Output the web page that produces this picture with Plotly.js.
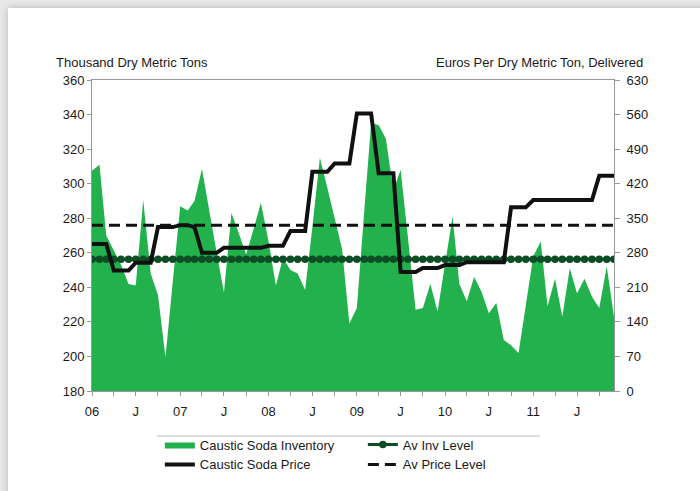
<!DOCTYPE html>
<html>
<head>
<meta charset="utf-8">
<script src="https://cdn.plot.ly/plotly-3.0.1.min.js"></script>
<style>
  html, body { margin: 0; padding: 0; width: 700px; height: 491px; overflow: hidden; background: #e9e9e9; }
  #card { position: absolute; left: 8px; top: 8px; width: 720px; height: 520px; background: #ffffff;
          box-shadow: 0 0 8px rgba(0,0,0,0.22); }
  #chart { position: absolute; left: 0; top: 0; width: 700px; height: 491px; }
</style>
</head>
<body>
<div id="card"></div>
<div id="chart"></div>
<script>
// Months Jan 2006 .. Dec 2011
const months = [
  '2006-01','2006-02','2006-03','2006-04','2006-05','2006-06','2006-07','2006-08','2006-09','2006-10','2006-11','2006-12',
  '2007-01','2007-02','2007-03','2007-04','2007-05','2007-06','2007-07','2007-08','2007-09','2007-10','2007-11','2007-12',
  '2008-01','2008-02','2008-03','2008-04','2008-05','2008-06','2008-07','2008-08','2008-09','2008-10','2008-11','2008-12',
  '2009-01','2009-02','2009-03','2009-04','2009-05','2009-06','2009-07','2009-08','2009-09','2009-10','2009-11','2009-12',
  '2010-01','2010-02','2010-03','2010-04','2010-05','2010-06','2010-07','2010-08','2010-09','2010-10','2010-11','2010-12',
  '2011-01','2011-02','2011-03','2011-04','2011-05','2011-06','2011-07','2011-08','2011-09','2011-10','2011-11','2011-12'
];

// Caustic soda inventory, thousand dry metric tons (left axis)
const inventory = [
  307.5, 311, 270, 261, 253, 242, 241, 290.5, 248, 235.5, 199.5, 243,
  287, 284.5, 290, 308.5, 284, 260, 237, 283, 271, 259, 274, 289,
  267, 241, 257, 250, 248, 238.5, 275, 315, 297.5, 280, 262, 219,
  228, 285, 335, 334, 326, 296, 308, 268, 227, 228, 242, 226,
  254, 281, 242, 232, 246, 237.5, 225, 231, 209.5, 206.5, 202, 231,
  258, 266.5, 229, 245, 223, 251, 236.5, 245, 234.5, 228, 252, 223
];

// Caustic soda price, euros per dry metric ton delivered (right axis)
const price = [
  298, 298, 298, 244, 244, 244, 260, 260, 260, 332, 332, 332,
  336, 336, 332, 280, 280, 280, 290, 290, 290, 290, 290, 290,
  294, 294, 294, 324, 324, 324, 444, 444, 444, 461, 461, 461,
  562, 562, 562, 441, 441, 441, 241, 241, 241, 249, 249, 249,
  255, 255, 255, 261, 261, 261, 261, 261, 261, 372, 372, 372,
  387, 387, 387, 387, 387, 387, 387, 387, 387, 436, 436, 436
];

const avInvLevel = 256.2;    // thousand dry metric tons
const avPriceLevel = 336;    // euros per dry metric ton

const xTickVals = [
  '2006-01','2006-04','2006-07','2006-10','2007-01','2007-04','2007-07','2007-10',
  '2008-01','2008-04','2008-07','2008-10','2009-01','2009-04','2009-07','2009-10',
  '2010-01','2010-04','2010-07','2010-10','2011-01','2011-04','2011-07','2011-10'
];
const xTickText = [
  '06','','J','','07','','J','','08','','J','','09','','J','','10','','J','','11','','J',''
];

const FONT = 'Liberation Sans, Arial, sans-serif';

const traces = [
  {
    x: months, y: inventory, name: 'Caustic Soda Inventory', type: 'scatter', mode: 'lines',
    fill: 'tozeroy', fillcolor: '#22b14c', line: {width: 0, color: '#22b14c'}, yaxis: 'y'
  },
  {
    x: months, y: months.map(() => avInvLevel), name: 'Av Inv Level', type: 'scatter', mode: 'lines+markers',
    line: {width: 3, color: '#0b4d24'}, marker: {size: 7.5, color: '#0b4d24'}, yaxis: 'y'
  },
  {
    x: months, y: price, name: 'Caustic Soda Price', type: 'scatter', mode: 'lines',
    line: {width: 4, color: '#111111'}, yaxis: 'y2'
  },
  {
    x: months, y: months.map(() => avPriceLevel), name: 'Av Price Level', type: 'scatter', mode: 'lines',
    line: {width: 3, color: '#111111', dash: '11px,6px'}, yaxis: 'y2'
  }
];

const layout = {
  width: 700, height: 491,
  paper_bgcolor: 'rgba(0,0,0,0)', plot_bgcolor: '#ffffff',
  margin: {l: 92, r: 86, t: 80, b: 100, autoexpand: false},
  font: {family: FONT, size: 13, color: '#1a1a1a'},
  showlegend: true,
  legend: {
    orientation: 'h', x: 0.13, y: -0.124, xanchor: 'left', yanchor: 'top',
    entrywidth: 158, itemwidth: 30, tracegroupgap: 0,
    font: {family: FONT, size: 13, color: '#1a1a1a'}, bgcolor: 'rgba(0,0,0,0)'
  },
  xaxis: {
    type: 'date', range: ['2006-01-01', '2011-12-01'],
    tickmode: 'array', tickvals: xTickVals, ticktext: xTickText,
    ticks: 'outside', ticklen: 4, tickcolor: '#999999', tickwidth: 1,
    showline: true, linecolor: '#999999', linewidth: 1, mirror: true,
    showgrid: false, zeroline: false, ticklabelstandoff: 4,
    tickfont: {family: FONT, size: 13, color: '#1a1a1a'}
  },
  yaxis: {
    range: [180, 360], dtick: 20, tick0: 180,
    ticks: 'outside', ticklen: 4, tickcolor: '#999999',
    showline: true, linecolor: '#999999', linewidth: 1,
    showgrid: false, zeroline: false,
    tickfont: {family: FONT, size: 13, color: '#1a1a1a'}
  },
  yaxis2: {
    range: [0, 630], dtick: 70, tick0: 0, overlaying: 'y', side: 'right',
    ticks: 'outside', ticklen: 5, tickcolor: '#999999',
    showline: true, linecolor: '#999999', linewidth: 1,
    showgrid: false, zeroline: false, ticklabelstandoff: 4,
    tickfont: {family: FONT, size: 13, color: '#1a1a1a'}
  },
  annotations: [
    {text: 'Thousand Dry Metric Tons', xref: 'paper', yref: 'paper', x: -0.072, y: 1.055,
     xanchor: 'left', yanchor: 'middle', showarrow: false, font: {family: FONT, size: 13, color: '#1a1a1a'}},
    {text: 'Euros Per Dry Metric Ton, Delivered', xref: 'paper', yref: 'paper', x: 1.059, y: 1.055,
     xanchor: 'right', yanchor: 'middle', showarrow: false, font: {family: FONT, size: 13, color: '#1a1a1a'}}
  ],
  shapes: [
    {type: 'line', xref: 'paper', yref: 'paper', x0: 0.1245, x1: 0.858, y0: -0.145, y1: -0.145,
     line: {color: '#bbbbbb', width: 1}}
  ]
};

Plotly.newPlot('chart', traces, layout, {displayModeBar: false, staticPlot: true});
</script>
</body>
</html>
